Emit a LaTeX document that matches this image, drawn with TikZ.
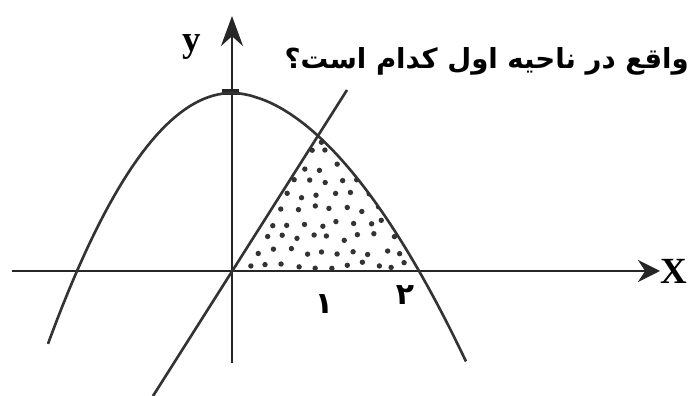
\documentclass[tikz,border=0pt]{standalone}
\usepackage{fontspec}
\setmainfont{Liberation Serif}
\newfontfamily\farsi[Script=Arabic]{DejaVu Sans}
\TeXXeTstate=1
\usetikzlibrary{arrows.meta}
\tikzset{
    axisline/.style={draw=black!85, line width=0.8pt},
    graphline/.style={draw=black!80, line width=0.75pt},
    axislabel/.style={font=\bfseries\fontsize{10.5}{10.5}\selectfont, inner sep=0pt},
    numlabel/.style={font=\farsi\bfseries\fontsize{8.5}{8.5}\selectfont, inner sep=0pt},
    questiontext/.style={font=\farsi\bfseries\fontsize{7.85}{7.85}\selectfont, inner sep=0pt, anchor=east},
    dotmark/.style={fill=black!80}
}

\begin{document}
\begin{tikzpicture}
    \useasboundingbox (-2.32,-1.25) rectangle (4.58,2.71);
    \coordinate (O) at (0,0);
    \coordinate (lineb) at (-0.79,-1.25);
    \coordinate (linet) at (1.15,1.81);

    \begin{scope}
        \clip plot[domain=-1.84:0, samples=40] (\x,{1.78-0.741*\x*\x}) -- plot[domain=0.002:2.34, samples=50] (\x,{1.78-1.78*pow(\x/1.87,1.833)}) -- cycle;
        \clip (O) -- (linet) -- (2.6,1.81) -- (2.6,0) -- cycle;
        \pgfmathsetseed{11}
        \foreach \i in {0,...,12}
            \foreach \j in {0,...,10} {
                \pgfmathsetmacro\dx{0.16*\i+0.08*mod(\j,2)+0.04*rand}
                \pgfmathsetmacro\dy{0.14*\j+0.06+0.035*rand}
                \fill[dotmark] (\dx,\dy) circle (0.027);
            }
    \end{scope}

    \draw[axisline, -{Stealth[length=2.2mm,width=2.2mm]}] (-2.2,0) -- (4.28,0);
    \draw[axisline, -{Stealth[length=3mm,width=2.2mm]}] (0,-0.92) -- (0,2.55);
    \draw[black!85, line width=1.6pt] (-0.1,1.79) -- (0.07,1.79);

    \draw[graphline] plot[domain=-1.84:0, samples=40] (\x,{1.78-0.741*\x*\x}) -- plot[domain=0.002:2.34, samples=50] (\x,{1.78-1.78*pow(\x/1.87,1.833)});
    \draw[graphline] (lineb) -- (linet);

    \node[axislabel] (ylab) at (-0.40,2.24) {y};
    \node[axislabel] (xlab) at (4.42,0) {X};
    \node[numlabel] (one) at (0.92,-0.33) {۱};
    \node[numlabel] (two) at (1.73,-0.24) {۲};
    \node[questiontext] (question) at (4.575,2.10) {\beginR واقع در ناحیه اول کدام است؟\endR};
\end{tikzpicture}
\end{document}
